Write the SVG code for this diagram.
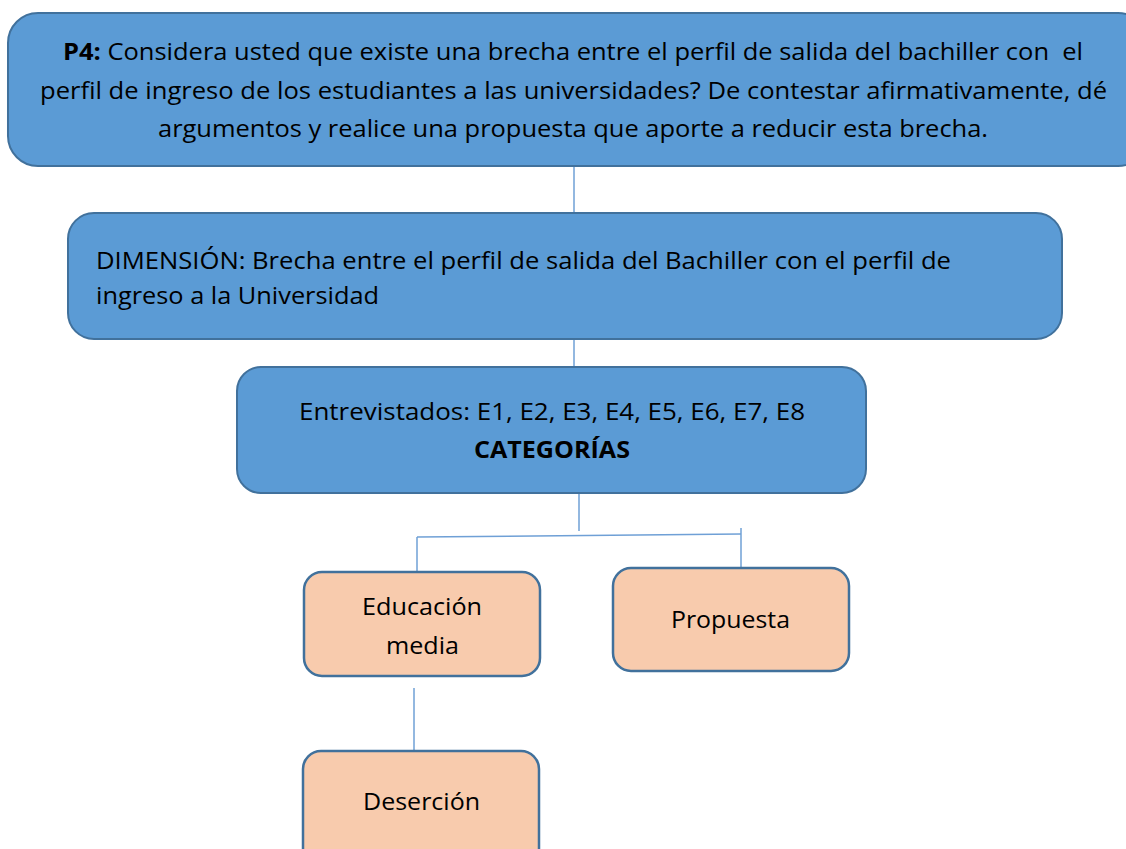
<svg xmlns="http://www.w3.org/2000/svg" width="1126" height="849" viewBox="0 0 1126 849">
<style>
.blue{fill:#5B9BD5;stroke:#41719C;stroke-width:2}
.orange{fill:#F8CBAD;stroke:#41719C;stroke-width:2.5}
.t{font-family:"Open Sans","Noto Sans",sans-serif;font-size:24px;fill:#000;white-space:pre}
.b{font-weight:bold}
.conn line{stroke:#6FA0D6;stroke-width:1.5}
</style>
<rect width="1126" height="849" fill="#fff"/>
<g class="conn" id="connectors">
<line x1="574" y1="166" x2="574" y2="213"/>
<line x1="574" y1="340" x2="574" y2="367"/>
<line x1="579" y1="493" x2="579" y2="531"/>
<line x1="417" y1="537" x2="741" y2="534"/>
<line x1="417" y1="537" x2="417" y2="575"/>
<line x1="741" y1="528" x2="741" y2="570"/>
<line x1="414" y1="688" x2="414" y2="750"/>
</g>
<g id="p4">
<rect class="blue" x="8" y="13" width="1140" height="153" rx="30"/>
<text class="t" x="63" y="60" textLength="1020" lengthAdjust="spacingAndGlyphs"><tspan class="b">P4:</tspan> Considera usted que existe una brecha entre el perfil de salida del bachiller con  el</text>
<text class="t" x="40" y="99" textLength="1067" lengthAdjust="spacingAndGlyphs">perfil de ingreso de los estudiantes a las universidades? De contestar afirmativamente, dé</text>
<text class="t" x="158" y="137" textLength="830" lengthAdjust="spacingAndGlyphs">argumentos y realice una propuesta que aporte a reducir esta brecha.</text>
</g>
<g id="dimension">
<rect class="blue" x="68" y="213" width="994" height="126" rx="26"/>
<text class="t" x="96" y="269" textLength="855" lengthAdjust="spacingAndGlyphs">DIMENSIÓN: Brecha entre el perfil de salida del Bachiller con el perfil de</text>
<text class="t" x="96" y="304" textLength="283" lengthAdjust="spacingAndGlyphs">ingreso a la Universidad</text>
</g>
<g id="entrevistados">
<rect class="blue" x="237" y="367" width="629" height="126" rx="24"/>
<text class="t" x="299" y="420" textLength="506" lengthAdjust="spacingAndGlyphs">Entrevistados: E1, E2, E3, E4, E5, E6, E7, E8</text>
<text class="t b" x="474" y="458" textLength="156" lengthAdjust="spacingAndGlyphs">CATEGORÍAS</text>
</g>
<g id="educacion">
<rect class="orange" x="304" y="572" width="236" height="104" rx="18"/>
<text class="t" x="362" y="615" textLength="120" lengthAdjust="spacingAndGlyphs">Educación</text>
<text class="t" x="386" y="654" textLength="73" lengthAdjust="spacingAndGlyphs">media</text>
</g>
<g id="propuesta">
<rect class="orange" x="613" y="568" width="236" height="103" rx="18"/>
<text class="t" x="671" y="628" textLength="119" lengthAdjust="spacingAndGlyphs">Propuesta</text>
</g>
<g id="desercion">
<rect class="orange" x="303" y="751" width="236" height="120" rx="18"/>
<text class="t" x="363" y="810" textLength="117" lengthAdjust="spacingAndGlyphs">Deserción</text>
</g>
</svg>
